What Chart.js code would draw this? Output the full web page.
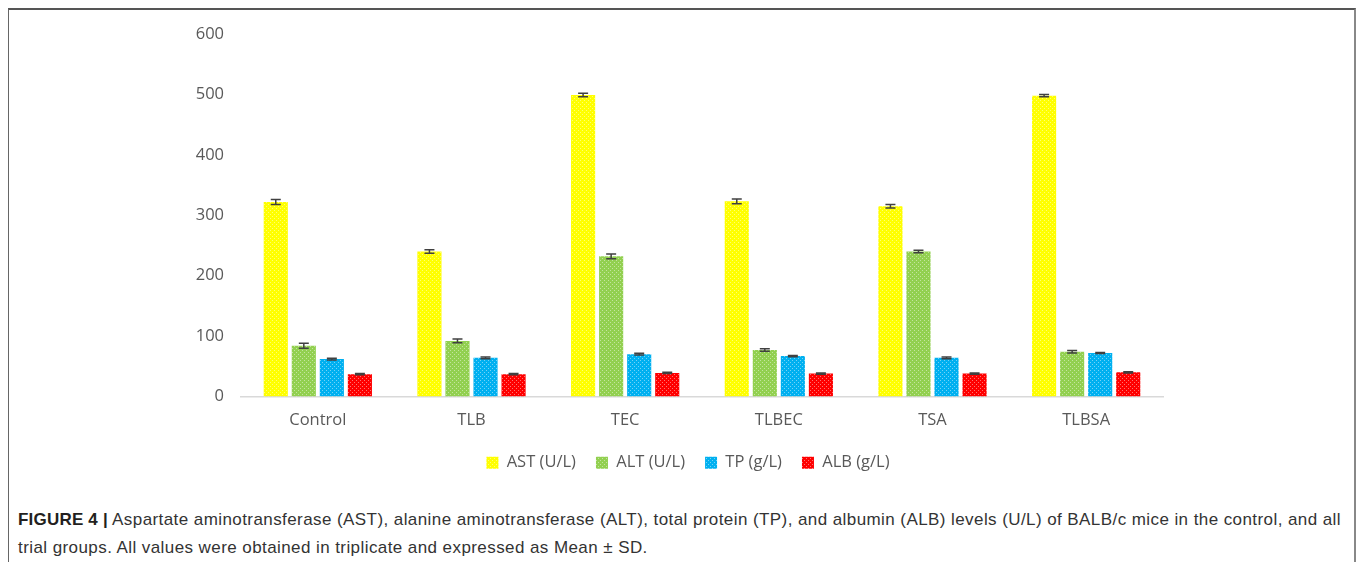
<!DOCTYPE html>
<html>
<head>
<meta charset="utf-8">
<script src="https://cdn.jsdelivr.net/npm/chart.js@4/dist/chart.umd.min.js"></script>
<style>
  body { margin: 0; background: #fff; width: 1358px; height: 562px; overflow: hidden; position: relative; }
  #frame { position: absolute; left: 8px; top: 8px; width: 1345px; height: 600px;
           border-top: 2px solid #555; border-left: 1px solid #666; border-right: 2px solid #888; }
  #wrap { position: absolute; left: 0; top: 0; width: 1358px; height: 490px; }
  #caption { position: absolute; left: 18px; top: 506px; width: 1335px; white-space: nowrap;
             font-family: "Liberation Sans", Arial, sans-serif; font-size: 17px; letter-spacing: 0.42px;
             line-height: 28px; color: #333; }
  #caption b { font-weight: bold; color: #231f20; letter-spacing: 0.2px; }
</style>
</head>
<body>
<div id="frame"></div>
<div id="wrap"><canvas id="chart"></canvas></div>
<div id="caption"><b>FIGURE 4 |</b> Aspartate aminotransferase (AST), alanine aminotransferase (ALT), total protein (TP), and albumin (ALB) levels (U/L) of BALB/c mice in the control, and all<br>trial groups. All values were obtained in triplicate and expressed as Mean ± SD.</div>
<script>
// data
const groups = ['Control', 'TLB', 'TEC', 'TLBEC', 'TSA', 'TLBSA'];
const seriesNames = ['AST (U/L)', 'ALT (U/L)', 'TP (g/L)', 'ALB (g/L)'];
const ast = [322, 240, 499, 323, 315, 498];
const alt = [84, 92, 232, 77, 240, 74];
const tp = [62, 64, 70, 67, 64, 72];
const alb = [37, 37, 39, 38, 38, 40];
const astSd = [4, 3, 3, 4, 3, 2];
const altSd = [4, 3, 4, 2, 2, 2];
const tpSd = [1.5, 1.5, 1.5, 1, 1.5, 1];
const albSd = [1, 1, 1, 1, 1, 1];
const yTicks = [0, 100, 200, 300, 400, 500, 600];

const baseColors = ['#ffff00', '#92d050', '#00b0f0', '#ff0000'];

// dotted fill like the office pattern fills
function dotted(color) {
  const c = document.createElement('canvas');
  c.width = 4; c.height = 4;
  const g = c.getContext('2d');
  g.fillStyle = color;
  g.fillRect(0, 0, 4, 4);
  g.fillStyle = 'rgba(255,255,255,0.45)';
  g.fillRect(0, 0, 1, 1);
  g.fillRect(2, 2, 1, 1);
  return g.createPattern(c, 'repeat');
}

const values = [ast, alt, tp, alb];
const sds = [astSd, altSd, tpSd, albSd];

const datasets = seriesNames.map((name, i) => ({
  label: name,
  data: values[i],
  sd: sds[i],
  backgroundColor: dotted(baseColors[i]),
  borderColor: baseColors[i],
  borderWidth: 0,
  barPercentage: 0.86,
  categoryPercentage: 0.73
}));

const errorBars = {
  id: 'errorBars',
  afterDatasetsDraw(chart) {
    const ctx = chart.ctx;
    const y = chart.scales.y;
    ctx.save();
    ctx.strokeStyle = '#404040';
    ctx.lineWidth = 1.5;
    chart.data.datasets.forEach((ds, i) => {
      const meta = chart.getDatasetMeta(i);
      meta.data.forEach((bar, j) => {
        const v = ds.data[j], e = ds.sd[j];
        const top = y.getPixelForValue(v + e);
        const bot = y.getPixelForValue(v - e);
        ctx.beginPath();
        ctx.moveTo(bar.x, top); ctx.lineTo(bar.x, bot);
        ctx.moveTo(bar.x - 5, top); ctx.lineTo(bar.x + 5, top);
        ctx.moveTo(bar.x - 5, bot); ctx.lineTo(bar.x + 5, bot);
        ctx.stroke();
      });
    });
    ctx.restore();
  }
};

const tickFont = { family: '"Open Sans", Carlito, sans-serif', size: 16.5 };

new Chart(document.getElementById('chart'), {
  type: 'bar',
  data: { labels: groups, datasets: datasets },
  plugins: [errorBars],
  options: {
    responsive: true,
    maintainAspectRatio: false,
    animation: false,
    layout: { padding: { top: 34, right: 0, bottom: 9, left: 18 } },
    scales: {
      x: {
        afterFit(scale) { scale.height = 38; },
        grid: { display: false, drawTicks: false },
        border: { display: true, color: '#d9d9d9', width: 1.5 },
        ticks: { color: '#595959', font: tickFont, padding: 14 }
      },
      y: {
        min: 0, max: 600,
        afterFit(scale) { scale.width = 223; },
        afterBuildTicks(scale) { scale.ticks = yTicks.map(v => ({ value: v })); },
        grid: { display: false, drawTicks: false },
        border: { display: false },
        ticks: { color: '#595959', font: tickFont, padding: 17 }
      },
      // empty right axis only to keep the plot narrower than the legend row
      pad: {
        position: 'right',
        afterFit(scale) { scale.width = 195; },
        grid: { display: false, drawTicks: false },
        border: { display: false },
        ticks: { display: false }
      }
    },
    plugins: {
      legend: {
        position: 'bottom',
        labels: { color: '#595959', font: { family: '"Open Sans", Carlito, sans-serif', size: 16.5 },
                  boxWidth: 12, boxHeight: 12, padding: 20 }
      },
      tooltip: { enabled: false }
    }
  }
});
</script>
</body>
</html>
